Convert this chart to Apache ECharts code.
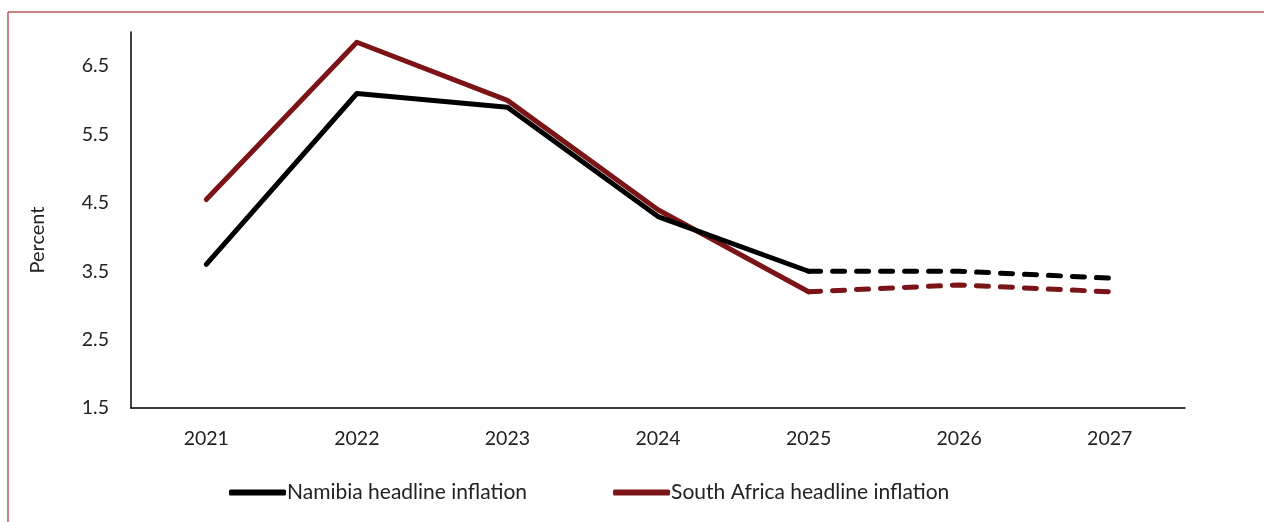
<!DOCTYPE html>
<html>
<head>
<meta charset="utf-8">
<script src="https://cdn.jsdelivr.net/npm/echarts@6/dist/echarts.min.js"></script>
<style>
html,body{margin:0;padding:0;background:#fff;}
#c{width:1264px;height:522px;}
</style>
</head>
<body>
<div id="c"></div>
<script>
const categories = ['2021','2022','2023','2024','2025','2026','2027'];
const namibia = [3.6, 6.1, 5.9, 4.3, 3.5, 3.5, 3.4];
const southAfrica = [4.55, 6.85, 6.0, 4.4, 3.2, 3.3, 3.2];
const forecastStart = 4; // index of 2025, forecasts dashed afterwards
const seriesNames = ['Namibia headline inflation', 'South Africa headline inflation'];
const yTitle = 'Percent';
const colors = ['#000000', '#7b1416'];

function actual(arr){ return arr.map((v,i)=> i <= forecastStart ? v : null); }
function forecast(arr){ return arr.map((v,i)=> i >= forecastStart ? v : null); }

const font = 'Lato';
const chart = echarts.init(document.getElementById('c'), null, {renderer:'canvas'});
const option = {
  animation: false,
  backgroundColor: '#ffffff',
  graphic: [
    {type:'line', shape:{x1:8, y1:12, x2:1264, y2:12}, style:{stroke:'#b9585c', lineWidth:1.5}},
    {type:'line', shape:{x1:8, y1:12, x2:8, y2:522}, style:{stroke:'#b9585c', lineWidth:1.5}},
    {type:'text', x:38, y:240, rotation:Math.PI/2,
     style:{text:yTitle, fontFamily:font, fontSize:20, fill:'#222', align:'center', verticalAlign:'middle'}}
  ],
  grid: {left:131, right:79, top:32, bottom:114, containLabel:false},
  legend: {
    data: seriesNames,
    top: 477,
    left: 224,
    itemWidth: 57,
    itemHeight: 6,
    itemGap: 86,
    icon: 'roundRect',
    textStyle: {fontFamily: font, fontSize: 21, color:'#222', padding:[0,0,0,-4]}
  },
  xAxis: {
    type: 'category',
    data: categories,
    boundaryGap: true,
    axisLine: {lineStyle:{color:'#000', width:1.5}},
    axisTick: {show:false},
    axisLabel: {fontFamily: font, fontSize: 19.5, color:'#222', margin: 21}
  },
  yAxis: {
    type: 'value',
    min: 1.5,
    max: 7,
    interval: 0.5,
    axisLine: {show:true, lineStyle:{color:'#000', width:1.5}},
    axisTick: {show:false},
    splitLine: {show:false},
    axisLabel: {
      fontFamily: font, fontSize: 19.5, color:'#222', margin: 22,
      formatter: v => (Math.abs(v*2 % 2 - 1) < 1e-6) ? v.toFixed(1) : ''
    }
  },
  series: [
    {name: seriesNames[0], type:'line', data: actual(namibia), symbol:'none',
     lineStyle:{color:colors[0], width:5, cap:'round', join:'round'}, itemStyle:{color:colors[0]}, z:3},
    {name: seriesNames[1], type:'line', data: actual(southAfrica), symbol:'none',
     lineStyle:{color:colors[1], width:5, cap:'round', join:'round'}, itemStyle:{color:colors[1]}, z:2},
    {name: seriesNames[0] + ' forecast', type:'line', data: forecast(namibia), symbol:'none',
     lineStyle:{color:colors[0], width:5, type:[12,12], cap:'round'}, itemStyle:{color:colors[0]}, z:3},
    {name: seriesNames[1] + ' forecast', type:'line', data: forecast(southAfrica), symbol:'none',
     lineStyle:{color:colors[1], width:5, type:[12,12], cap:'round'}, itemStyle:{color:colors[1]}, z:2}
  ]
};
chart.setOption(option);
</script>
</body>
</html>
